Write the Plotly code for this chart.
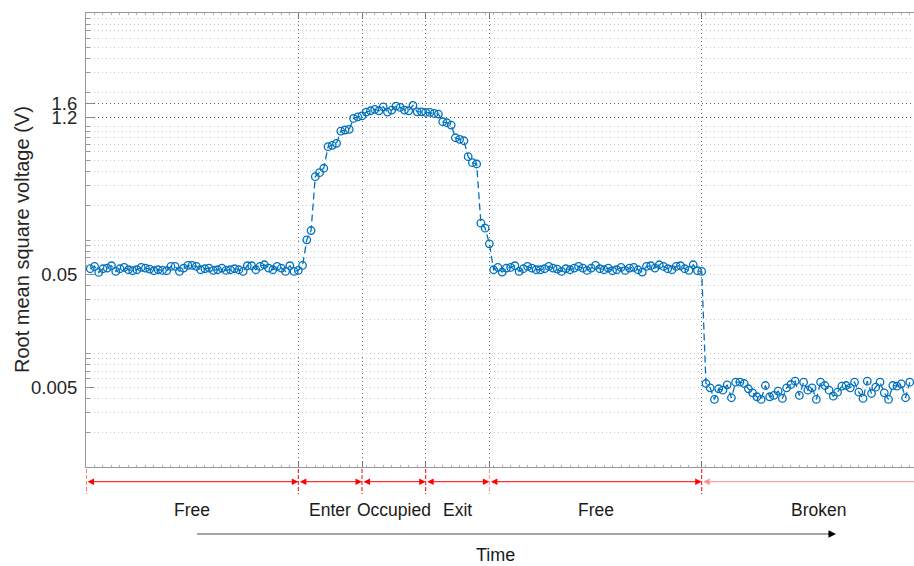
import plotly.graph_objects as go

# ---- data -------------------------------------------------------------
sample = list(range(1, 195))

free_before = [
    0.05582, 0.05848, 0.05180, 0.05582, 0.05662, 0.05933, 0.05286, 0.05582, 0.05731, 0.05470,
    0.05361, 0.05470, 0.05731, 0.05662, 0.05549, 0.05361, 0.05470, 0.05394, 0.05361, 0.05848,
    0.05848, 0.05286, 0.05662, 0.05970, 0.05970, 0.05848, 0.05470, 0.05582, 0.05662, 0.05394,
    0.05470, 0.05662, 0.05394, 0.05470, 0.05582, 0.05470, 0.05286, 0.05933, 0.05933, 0.05470,
    0.05848, 0.06053, 0.05662, 0.05470, 0.05848, 0.05662, 0.05286, 0.05933, 0.05286, 0.05394,
]

transit = [
    0.0597, 0.1004, 0.1212, 0.3616, 0.392, 0.4286, 0.6637, 0.683, 0.711, 0.912,
    0.931, 0.944, 1.179, 1.218, 1.243, 1.340, 1.376, 1.415, 1.376, 1.492,
    1.340, 1.395, 1.513, 1.474, 1.395, 1.376, 1.534, 1.348, 1.348, 1.331,
    1.331, 1.305, 1.287, 1.101, 1.079, 1.030, 0.796, 0.771, 0.749, 0.542,
    0.480, 0.4675, 0.1408, 0.1272, 0.0926, 0.0547,
]

free_after = [
    0.05731, 0.05222, 0.05662, 0.05731, 0.05933, 0.05286, 0.05582, 0.05848, 0.05662, 0.05470,
    0.05470, 0.05582, 0.05848, 0.05662, 0.05549, 0.05286, 0.05582, 0.05470, 0.05662, 0.05848,
    0.05662, 0.05394, 0.05662, 0.05970, 0.05582, 0.05470, 0.05662, 0.05361, 0.05470, 0.05731,
    0.05394, 0.05662, 0.05731, 0.05470, 0.05222, 0.05848, 0.05933, 0.05662, 0.06053, 0.05848,
    0.05582, 0.05470, 0.05848, 0.05933, 0.05582, 0.05394, 0.06053, 0.05361, 0.05286,
]

broken = [
    0.005442, 0.004989, 0.003937, 0.004889, 0.004752, 0.005301, 0.004074, 0.005588, 0.005588, 0.005442,
    0.004889, 0.004507, 0.004157, 0.003937, 0.005226, 0.004157, 0.004268, 0.004657, 0.004018, 0.004989,
    0.005333, 0.005703, 0.004268, 0.005588, 0.004752, 0.004989, 0.003937, 0.005588, 0.005226, 0.004752,
    0.004208, 0.004562, 0.005153, 0.005226, 0.004989, 0.005588, 0.004562, 0.004018, 0.005703, 0.004444,
    0.005050, 0.005588, 0.004507, 0.003937, 0.005226, 0.005153, 0.005409, 0.004074, 0.005588,
]

rms_voltage = free_before + transit + free_after + broken

y_tick_values = [0.005, 0.05, 1.2, 1.6]
y_tick_text = ["0.005", "0.05", "1.2", "1.6"]

phase_edges = [0, 50, 65, 80, 95, 145, 200]
phase_names = ["Free", "Enter", "Occupied", "Exit", "Free", "Broken"]

x_span = [0, 195]
y_span_log = [-3, 1]

# ---- styling ----------------------------------------------------------
FONT = "Liberation Sans, Arial, sans-serif"
BLUE = "#0072BD"
RED = "#ff0000"
PALE_RED = "#ff8c8c"
TEXT = "#262626"

W, H = 914, 566
M_L, M_R, M_T, M_B = 86, 0, 13, 99
PLOT_H = H - M_T - M_B
PLOT_W = W - M_L - M_R


def py_to_paper(py):
    """Convert a pixel row (from the top of the page) to paper y."""
    return (H - M_B - py) / PLOT_H


def px_to_paper(px):
    return (px - M_L) / PLOT_W


fig = go.Figure()

fig.add_trace(go.Scatter(
    x=sample, y=rms_voltage,
    mode="lines+markers",
    line=dict(color=BLUE, width=1.3, dash="7px,4px"),
    marker=dict(symbol="circle-open", size=7.5, color=BLUE, line=dict(width=1.3)),
    showlegend=False, hoverinfo="x+y",
))
# empty trace that carries the minor-grid overlay axis
fig.add_trace(go.Scatter(x=[], y=[], yaxis="y2", showlegend=False, hoverinfo="skip"))

fig.update_layout(
    width=W, height=H,
    margin=dict(l=M_L, r=M_R, t=M_T, b=M_B, autoexpand=False),
    paper_bgcolor="white", plot_bgcolor="white",
    font=dict(family=FONT, color=TEXT),
    xaxis=dict(
        range=x_span, tickmode="array", tickvals=phase_edges[1:-1],
        showticklabels=False, ticks="inside", ticklen=6, tickcolor="#777",
        showline=True, linecolor="#999", linewidth=1, mirror="ticks",
        showgrid=True, gridcolor="#6e6e6e", griddash="1px,3px", gridwidth=1,
        zeroline=False,
        minor=dict(ticks="inside", ticklen=2, tick0=0, dtick=2, tickcolor="#b0b0b0", showgrid=False),
    ),
    yaxis=dict(
        type="log", range=y_span_log,
        tickmode="array", tickvals=y_tick_values, ticktext=y_tick_text,
        tickfont=dict(size=18.5, color=TEXT, family=FONT),
        ticks="inside", ticklen=8, tickcolor="#888",
        showline=True, linecolor="#999", linewidth=1, mirror=False,
        showgrid=True, gridcolor="#5a5a5a", griddash="1px,3px", gridwidth=1,
        ticklabelstandoff=4,
    ),
    yaxis2=dict(
        type="log", range=y_span_log, overlaying="y", side="left", anchor="x",
        tickmode="linear", dtick="D1", showticklabels=False,
        ticks="inside", ticklen=4, tickcolor="#999",
        showline=False, showgrid=True, gridcolor="#c8c8c8", griddash="1px,3px", gridwidth=1,
    ),
)

# y-axis title
fig.add_annotation(
    text="Root mean square voltage (V)", textangle=-90,
    xref="paper", yref="paper", x=px_to_paper(22), y=0.5,
    showarrow=False, font=dict(size=20, color=TEXT, family=FONT),
    xanchor="center", yanchor="middle",
)

# phase markers below the axis
arrow_y = py_to_paper(481.7)
label_y = py_to_paper(510)
for i, name in enumerate(phase_names):
    x0 = phase_edges[i]
    x1 = phase_edges[i + 1]
    clipped = x1 > x_span[1]
    head_x = min(x1, x_span[1])
    colour = PALE_RED if clipped else RED
    fig.add_annotation(
        x=head_x, y=arrow_y, xref="x", yref="paper",
        ax=x0, ay=0, axref="x", ayref="pixel",
        text="", showarrow=True,
        arrowside="start" if clipped else "end+start",
        arrowhead=2, startarrowhead=2, arrowsize=1.3, startarrowsize=1.3,
        arrowwidth=1, arrowcolor=colour, standoff=0, startstandoff=0,
    )
    fig.add_annotation(
        x=(x0 + x1) / 2, y=label_y, xref="x", yref="paper",
        text=name, showarrow=False,
        font=dict(size=17.5, color="#1a1a1a", family=FONT),
        xanchor="center", yanchor="middle",
    )

for k, edge in enumerate(phase_edges):
    if edge > x_span[1]:
        continue
    fig.add_shape(
        type="line", xref="x", yref="paper",
        x0=edge, x1=edge, y0=py_to_paper(469), y1=py_to_paper(494),
        line=dict(color=PALE_RED if edge == 95 else RED, width=1, dash="4px,2px"),
    )

# time arrow
time_y = py_to_paper(534)
fig.add_shape(
    type="line", xref="paper", yref="paper",
    x0=px_to_paper(197), x1=px_to_paper(830), y0=time_y, y1=time_y,
    line=dict(color="#a6a6a6", width=2),
)
fig.add_annotation(
    x=px_to_paper(836), y=time_y, xref="paper", yref="paper",
    ax=-9, ay=0, text="", showarrow=True,
    arrowhead=2, arrowsize=1, arrowwidth=1.5, arrowcolor="#000000", standoff=0,
)
fig.add_annotation(
    x=px_to_paper(495), y=py_to_paper(555), xref="paper", yref="paper",
    text="Time", showarrow=False,
    font=dict(size=18, color="#1a1a1a", family=FONT),
    xanchor="center", yanchor="middle",
)

fig.write_html("out.html")
